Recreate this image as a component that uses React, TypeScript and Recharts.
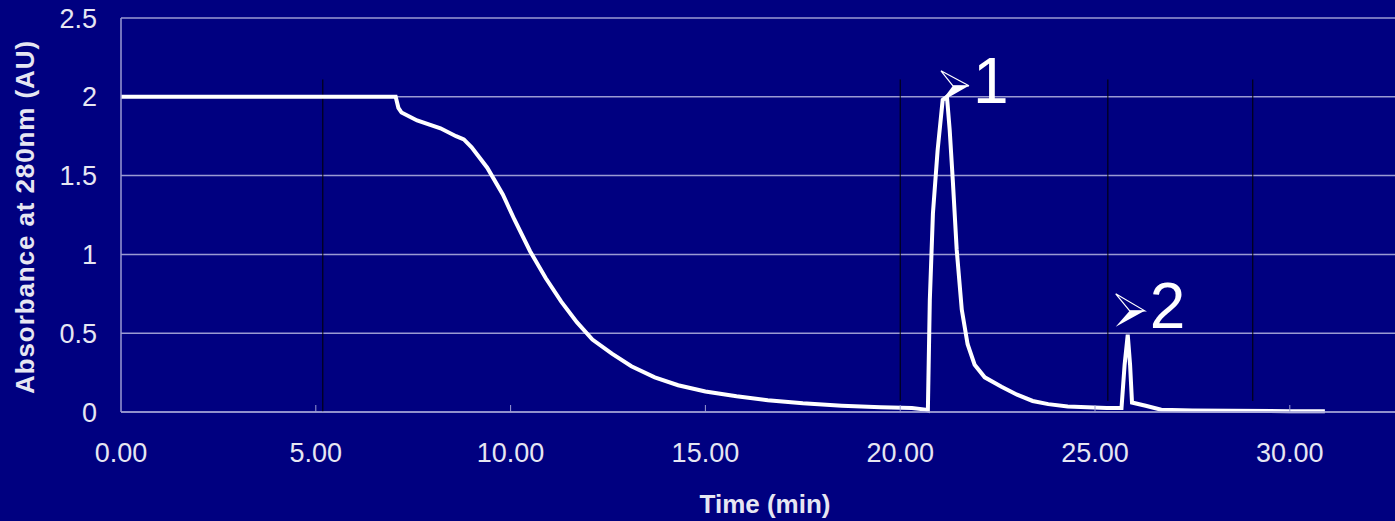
import React from 'react';
import { LineChart, Line, XAxis, YAxis, CartesianGrid, ReferenceLine, ReferenceDot, Label } from 'recharts';

// chromatogram trace
const times = [
  0, 6.95, 7.05, 7.12, 7.2, 7.6, 8.2, 8.6, 8.8, 9.0, 9.4, 9.8, 10.1, 10.5, 10.9, 11.3, 11.7, 12.1,
  12.6, 13.1, 13.7, 14.3, 15.0, 15.8, 16.6, 17.5, 18.5, 19.5, 20.3, 20.65, 20.71, 20.76, 20.84, 20.96,
  21.09, 21.2, 21.27, 21.35, 21.45, 21.58, 21.73, 21.91, 22.17, 22.6, 23.0, 23.4, 23.8, 24.3, 24.8,
  25.3, 25.68, 25.76, 25.84, 25.9, 25.95, 26.3, 26.7, 27.5, 28.5, 30.0, 30.9,
];
const absorbance = [
  2.0, 2.0, 2.0, 1.93, 1.9, 1.85, 1.8, 1.75, 1.73, 1.68, 1.55, 1.38, 1.22, 1.02, 0.85, 0.7, 0.57, 0.46,
  0.37, 0.29, 0.22, 0.17, 0.13, 0.1, 0.075, 0.055, 0.04, 0.03, 0.025, 0.015, 0.01, 0.71, 1.26, 1.66,
  1.98, 2.0, 1.79, 1.47, 1.03, 0.65, 0.43, 0.3, 0.22, 0.16, 0.11, 0.07, 0.05, 0.035, 0.03,
  0.025, 0.025, 0.3, 0.49, 0.3, 0.06, 0.04, 0.015, 0.01, 0.008, 0.005, 0.005,
];
const xTicks = [0, 5, 10, 15, 20, 25, 30];
const yTicks = [0, 0.5, 1, 1.5, 2, 2.5];
// fraction markers (thin black lines)
const markerTimes = [5.18, 20.0, 25.33, 29.05];
const markerBottoms = [0, 0.07, 0.07, 0.07];
const markerTop = 2.11;
// peak labels
const peaks = [
  { t: 21.2, v: 2.0, label: '1' },
  { t: 25.84, v: 0.49, label: '2' },
];

const data = times.map((t, i) => ({ t, a: absorbance[i] }));

const BG = '#000080';
const GRID = '#9a9ad2';
const TXT = '#e6e6f2';
const FONT = '"Liberation Sans", Arial, sans-serif';

const XTick = (props: any) => {
  const { x, y, payload } = props;
  return (
    <g>
      {payload.value !== 0 && <line x1={x} x2={x} y1={y - 38} y2={y - 31} stroke={GRID} strokeWidth={1} />}
      <text x={x} y={y} dy="0.71em" textAnchor="middle" fill={TXT} fontSize={27} fontFamily={FONT}>
        {payload.value.toFixed(2)}
      </text>
    </g>
  );
};

const PeakMark = (label: string) => (props: any) => {
  const { cx, cy } = props;
  const big = label === '1';
  // arrowhead: upper half outlined, lower half filled
  const A = big ? [-6, -26] : [-12, -41];
  const T = big ? [22, -11] : [17, -24];
  const N = big ? [6, -11] : [2, -24];
  const B = big ? [-6, 5] : [-12, -8];
  const p = (q: number[]) => `${cx + q[0]},${cy + q[1]}`;
  return (
    <g>
      <polygon points={`${p(A)} ${p(T)} ${p(N)}`} fill="none" stroke="#fff" strokeWidth={1.2} />
      <polygon points={`${p(N)} ${p(T)} ${p(B)}`} fill="#fff" />
      <text
        x={cx + (big ? 26 : 22)}
        y={cy + (big ? 6 : -7)}
        fill="#fff"
        fontSize={64}
        fontFamily={FONT}
      >
        {label}
      </text>
    </g>
  );
};

export default function App() {
  return (
    <div style={{ width: 1395, height: 521, background: BG }}>
      <style>{`body{margin:0}`}</style>
      <LineChart width={1395} height={521} data={data} margin={{ top: 18, right: 0, bottom: 0, left: 0 }}>
        <CartesianGrid vertical={false} stroke={GRID} strokeWidth={1.5} />
        <XAxis
          dataKey="t"
          type="number"
          domain={[0, 32.7]}
          ticks={xTicks}
          allowDataOverflow
          height={109}
          tickLine={false}
          tickSize={0}
          tickMargin={31}
          stroke={GRID}
          strokeWidth={1.5}
          tick={<XTick />}
        >
          <Label
            content={(p: any) => (
              <text
                x={p.viewBox.x + p.viewBox.width / 2 + 7}
                y={p.viewBox.y + 101}
                textAnchor="middle"
                fill={TXT}
                fontSize={26}
                fontWeight="bold"
                fontFamily={FONT}
              >
                Time (min)
              </text>
            )}
          />
        </XAxis>
        <YAxis
          type="number"
          domain={[0, 2.5]}
          ticks={yTicks}
          width={121}
          tickLine={false}
          tickSize={0}
          tickMargin={24}
          stroke={GRID}
          strokeWidth={1.5}
          tick={{ fill: TXT, fontSize: 27, fontFamily: FONT }}
        >
          <Label
            content={(p: any) => {
              const cx = p.viewBox.x + 25;
              const cy = p.viewBox.y + p.viewBox.height / 2 + 2;
              return (
                <text
                  x={cx}
                  y={cy}
                  transform={`rotate(-90 ${cx} ${cy})`}
                  textAnchor="middle"
                  dominantBaseline="central"
                  fill={TXT}
                  fontSize={26}
                  fontWeight="bold"
                  letterSpacing={0.9}
                  fontFamily={FONT}
                >
                  Absorbance at 280nm (AU)
                </text>
              );
            }}
          />
        </YAxis>
        {markerTimes.map((m, i) => (
          <ReferenceLine
            key={m}
            segment={[{ x: m, y: markerBottoms[i] }, { x: m, y: markerTop }]}
            stroke="#000"
            strokeWidth={1}
          />
        ))}
        <Line
          type="linear"
          dataKey="a"
          stroke="#fff"
          strokeWidth={4}
          dot={false}
          isAnimationActive={false}
        />
        {peaks.map((pk) => (
          <ReferenceDot key={pk.label} x={pk.t} y={pk.v} shape={PeakMark(pk.label)} ifOverflow="visible" />
        ))}
      </LineChart>
    </div>
  );
}
